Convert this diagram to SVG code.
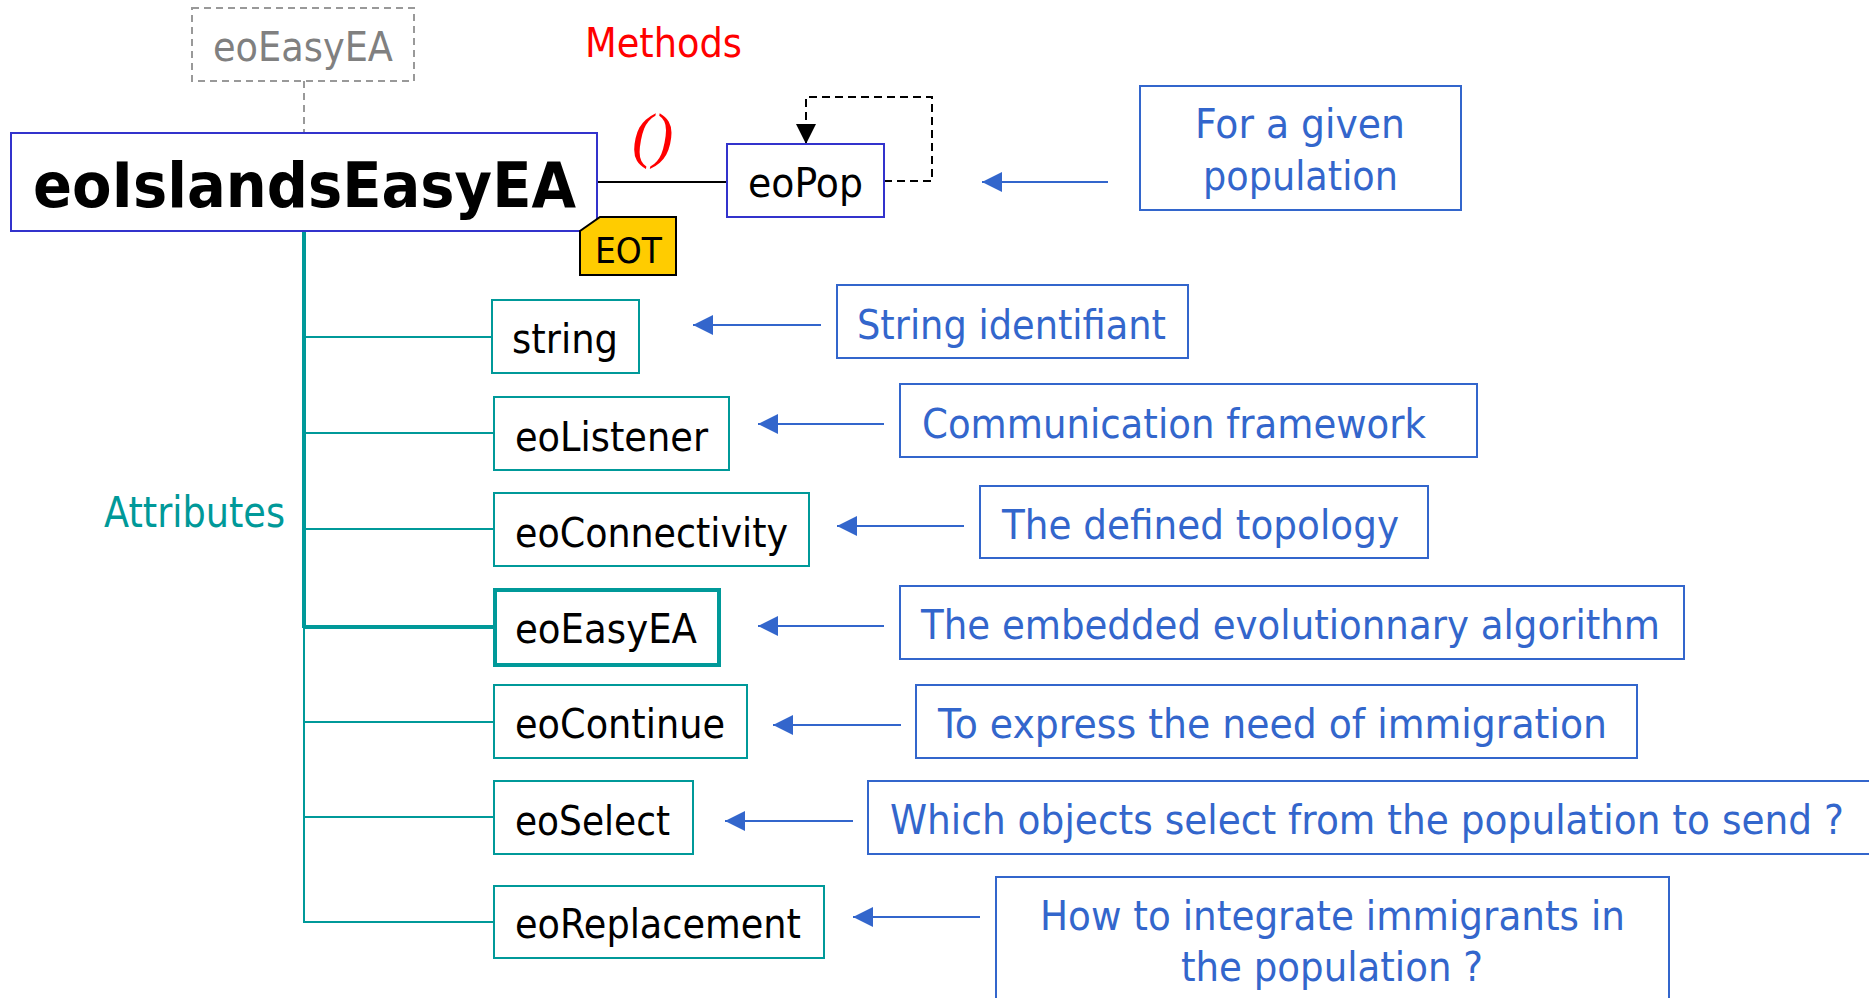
<svg xmlns="http://www.w3.org/2000/svg" width="1869" height="998" viewBox="0 0 1869 998">
  <style>
    text { font-family: "DejaVu Sans", Verdana, sans-serif; font-size: 40px; }
    .attr-box { fill: #ffffff; stroke: #009999; stroke-width: 2; }
    .attr-txt { fill: #000000; }
    .note-box { fill: #ffffff; stroke: #3366CC; stroke-width: 2; }
    .note-txt { fill: #3366CC; }
    .teal { stroke: #009999; stroke-width: 2; fill: none; }
    .teal-thick { stroke: #009999; stroke-width: 4; fill: none; }
    .blue-arrow { stroke: #3366CC; stroke-width: 2; fill: none; marker-end: url(#arrowBlue); }
  </style>
  <defs>
    <marker id="arrowBlue" viewBox="0 0 20 20" refX="20" refY="10" markerWidth="20" markerHeight="20" markerUnits="userSpaceOnUse" orient="auto">
      <path d="M0,0 L20,10 L0,20 z" fill="#3366CC"/>
    </marker>
    <marker id="arrowBlack" viewBox="0 0 20 20" refX="20" refY="10" markerWidth="20" markerHeight="20" markerUnits="userSpaceOnUse" orient="auto">
      <path d="M0,0 L20,10 L0,20 z" fill="#000000"/>
    </marker>
  </defs>

  <rect width="1869" height="998" fill="#ffffff"/>

  <!-- connectors -->
  <g id="connectors">
    <!-- inheritance link to the parent class -->
    <line x1="304" y1="81" x2="304" y2="133" stroke="#999999" stroke-width="2" stroke-dasharray="7,5"/>
    <!-- method link to eoPop -->
    <line x1="597" y1="182" x2="727" y2="182" stroke="#000000" stroke-width="2"/>
    <!-- self loop on eoPop -->
    <path d="M884,181 H932 V97 H806 V144" fill="none" stroke="#000000" stroke-width="2" stroke-dasharray="8,5" marker-end="url(#arrowBlack)"/>
    <!-- attribute tree -->
    <line class="teal-thick" x1="304" y1="231" x2="304" y2="628"/>
    <line class="teal" x1="304" y1="627" x2="304" y2="923"/>
    <line class="teal" x1="304" y1="337" x2="492" y2="337"/>
    <line class="teal" x1="304" y1="433" x2="494" y2="433"/>
    <line class="teal" x1="304" y1="529" x2="494" y2="529"/>
    <line class="teal-thick" x1="304" y1="627" x2="494" y2="627"/>
    <line class="teal" x1="304" y1="722" x2="494" y2="722"/>
    <line class="teal" x1="304" y1="817" x2="494" y2="817"/>
    <line class="teal" x1="303" y1="922" x2="494" y2="922"/>
    <!-- annotation arrows -->
    <line class="blue-arrow" x1="1108" y1="182" x2="982" y2="182"/>
    <line class="blue-arrow" x1="821" y1="325" x2="693" y2="325"/>
    <line class="blue-arrow" x1="884" y1="424" x2="758" y2="424"/>
    <line class="blue-arrow" x1="964" y1="526" x2="837" y2="526"/>
    <line class="blue-arrow" x1="884" y1="626" x2="758" y2="626"/>
    <line class="blue-arrow" x1="901" y1="725" x2="773" y2="725"/>
    <line class="blue-arrow" x1="853" y1="821" x2="725" y2="821"/>
    <line class="blue-arrow" x1="980" y1="917" x2="853" y2="917"/>
  </g>

  <!-- section labels -->
  <text id="label-methods" x="585" y="57" fill="#FF0000" textLength="157" lengthAdjust="spacingAndGlyphs">Methods</text>
  <text id="label-parens" x="632" y="156" fill="#FF0000" style="font-family: 'Liberation Serif', 'Times New Roman', serif; font-style: italic; font-size: 62px;">()</text>
  <text id="label-attributes" x="104" y="527" fill="#009999" style="font-size: 42px;" textLength="181" lengthAdjust="spacingAndGlyphs">Attributes</text>

  <!-- parent class -->
  <g id="node-parent">
    <rect x="192" y="8" width="222" height="73" fill="#ffffff" stroke="#999999" stroke-width="2" stroke-dasharray="7,5"/>
    <text x="213" y="61" fill="#808080" textLength="180" lengthAdjust="spacingAndGlyphs">eoEasyEA</text>
  </g>

  <!-- main class -->
  <g id="node-main">
    <rect x="11" y="133" width="586" height="98" fill="#ffffff" stroke="#3333CC" stroke-width="2"/>
    <text x="33" y="207" fill="#000000" style="font-weight: bold; font-size: 62px;" textLength="543" lengthAdjust="spacingAndGlyphs">eoIslandsEasyEA</text>
  </g>

  <!-- EOT tag -->
  <g id="node-eot">
    <path d="M600,217 H676 V275 H580 V231 z" fill="#FFCC00" stroke="#000000" stroke-width="2"/>
    <text x="595" y="263" fill="#000000" style="font-size: 36px;" textLength="67" lengthAdjust="spacingAndGlyphs">EOT</text>
  </g>

  <!-- method argument -->
  <g id="node-eopop">
    <rect x="727" y="144" width="157" height="73" fill="#ffffff" stroke="#3333CC" stroke-width="2"/>
    <text x="748" y="197" fill="#000000" textLength="115" lengthAdjust="spacingAndGlyphs">eoPop</text>
  </g>
  <g id="note-eopop">
    <rect class="note-box" x="1140" y="86" width="321" height="124"/>
    <text class="note-txt" x="1195" y="138" textLength="210" lengthAdjust="spacingAndGlyphs">For a given</text>
    <text class="note-txt" x="1203" y="190" textLength="195" lengthAdjust="spacingAndGlyphs">population</text>
  </g>

  <!-- attributes -->
  <g id="node-string">
    <rect class="attr-box" x="492" y="300" width="147" height="73"/>
    <text class="attr-txt" x="512" y="353" textLength="106" lengthAdjust="spacingAndGlyphs">string</text>
  </g>
  <g id="note-string">
    <rect class="note-box" x="837" y="285" width="351" height="73"/>
    <text class="note-txt" x="857" y="339" textLength="309" lengthAdjust="spacingAndGlyphs">String identifiant</text>
  </g>

  <g id="node-listener">
    <rect class="attr-box" x="494" y="397" width="235" height="73"/>
    <text class="attr-txt" x="515" y="451" textLength="193" lengthAdjust="spacingAndGlyphs">eoListener</text>
  </g>
  <g id="note-listener">
    <rect class="note-box" x="900" y="384" width="577" height="73"/>
    <text class="note-txt" x="922" y="438" textLength="504" lengthAdjust="spacingAndGlyphs">Communication framework</text>
  </g>

  <g id="node-connectivity">
    <rect class="attr-box" x="494" y="493" width="315" height="73"/>
    <text class="attr-txt" x="515" y="547" textLength="273" lengthAdjust="spacingAndGlyphs">eoConnectivity</text>
  </g>
  <g id="note-connectivity">
    <rect class="note-box" x="980" y="486" width="448" height="72"/>
    <text class="note-txt" x="1002" y="539" textLength="397" lengthAdjust="spacingAndGlyphs">The defined topology</text>
  </g>

  <g id="node-easyea">
    <rect x="495" y="590" width="224" height="75" fill="#ffffff" stroke="#009999" stroke-width="4"/>
    <text class="attr-txt" x="515" y="643" textLength="182" lengthAdjust="spacingAndGlyphs">eoEasyEA</text>
  </g>
  <g id="note-easyea">
    <rect class="note-box" x="900" y="586" width="784" height="73"/>
    <text class="note-txt" x="921" y="639" textLength="739" lengthAdjust="spacingAndGlyphs">The embedded evolutionnary algorithm</text>
  </g>

  <g id="node-continue">
    <rect class="attr-box" x="494" y="685" width="253" height="73"/>
    <text class="attr-txt" x="515" y="738" textLength="210" lengthAdjust="spacingAndGlyphs">eoContinue</text>
  </g>
  <g id="note-continue">
    <rect class="note-box" x="916" y="685" width="721" height="73"/>
    <text class="note-txt" x="938" y="738" textLength="669" lengthAdjust="spacingAndGlyphs">To express the need of immigration</text>
  </g>

  <g id="node-select">
    <rect class="attr-box" x="494" y="781" width="199" height="73"/>
    <text class="attr-txt" x="515" y="835" textLength="155" lengthAdjust="spacingAndGlyphs">eoSelect</text>
  </g>
  <g id="note-select">
    <rect class="note-box" x="868" y="781" width="1010" height="73"/>
    <text class="note-txt" x="890" y="834" textLength="954" lengthAdjust="spacingAndGlyphs">Which objects select from the population to send ?</text>
  </g>

  <g id="node-replacement">
    <rect class="attr-box" x="494" y="886" width="330" height="72"/>
    <text class="attr-txt" x="515" y="938" textLength="286" lengthAdjust="spacingAndGlyphs">eoReplacement</text>
  </g>
  <g id="note-replacement">
    <rect class="note-box" x="996" y="877" width="673" height="140"/>
    <text class="note-txt" x="1040" y="930" textLength="585" lengthAdjust="spacingAndGlyphs">How to integrate immigrants in</text>
    <text class="note-txt" x="1181" y="981" textLength="302" lengthAdjust="spacingAndGlyphs">the population ?</text>
  </g>
</svg>
